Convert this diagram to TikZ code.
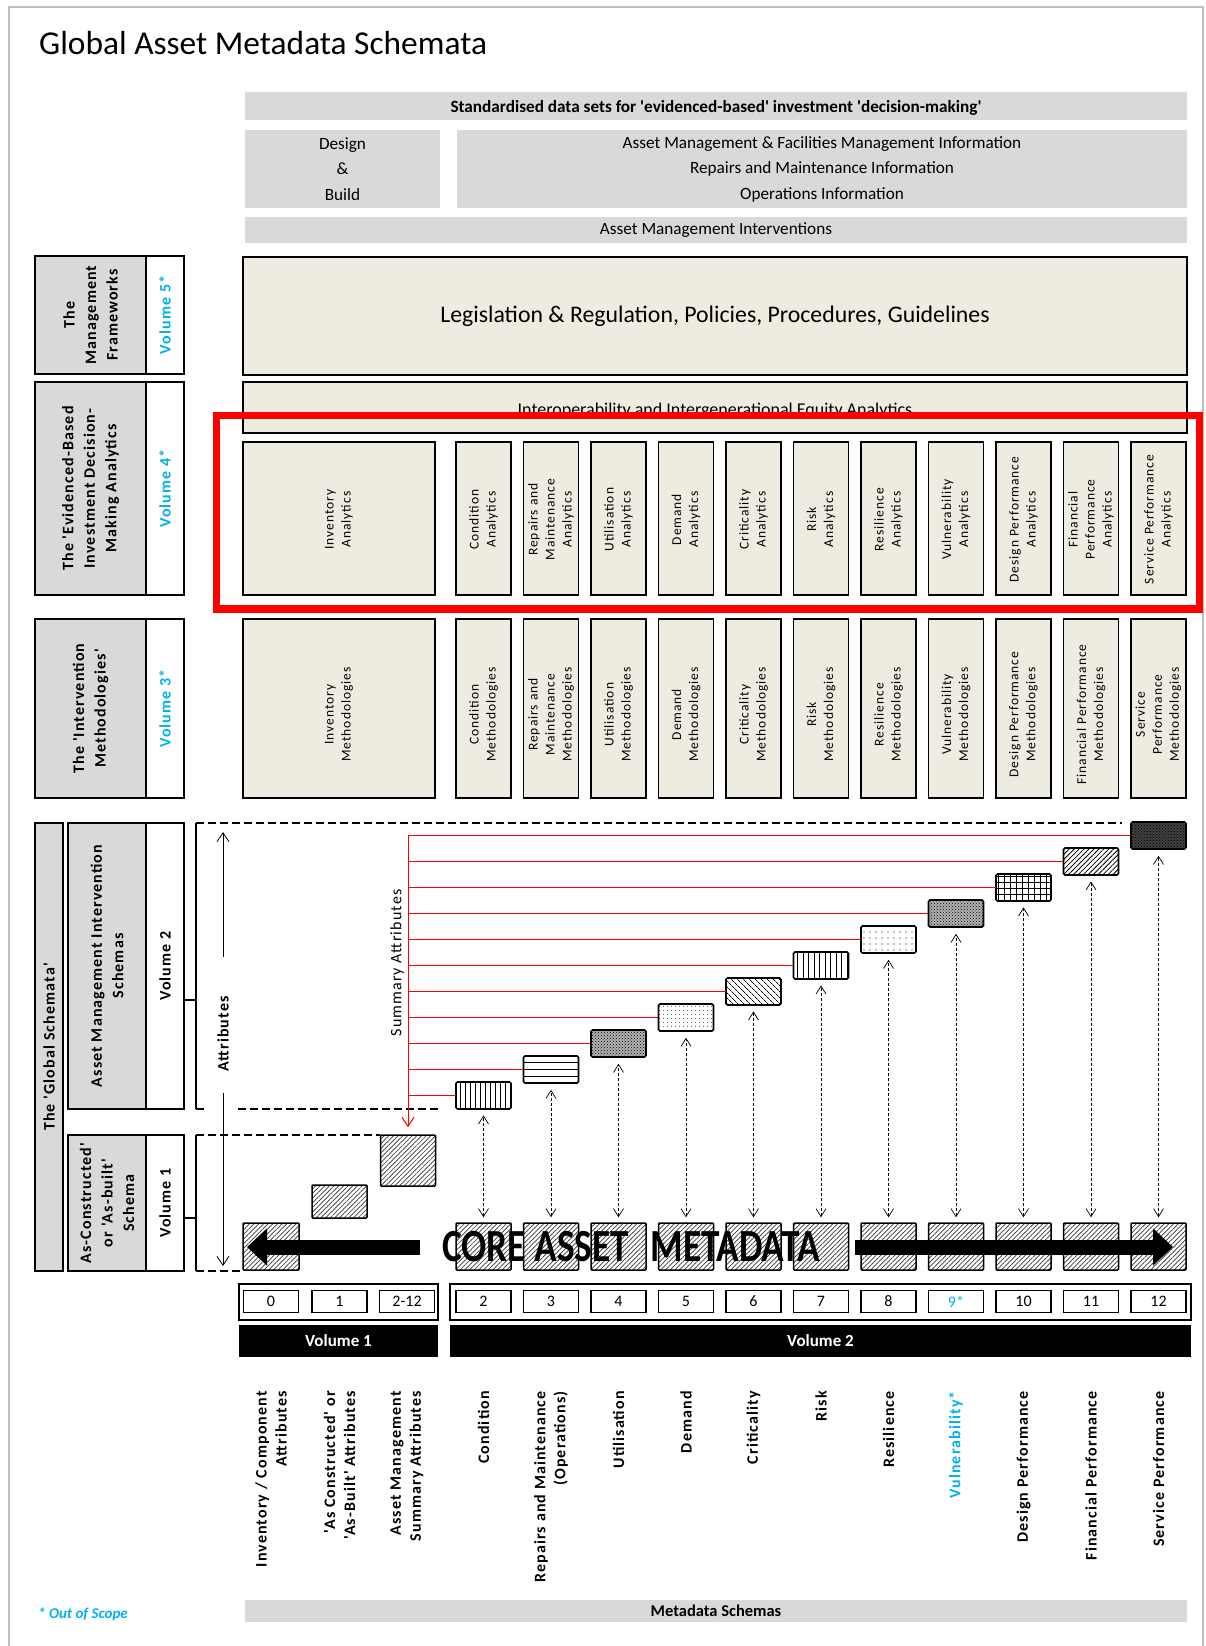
\documentclass[tikz,border=0pt]{standalone}
\usepackage{fontspec}
\setmainfont{Carlito}[Ligatures=TeXOff]
\newfontfamily\spaced{Carlito}[LetterSpace=7,Ligatures=TeXOff]
\usetikzlibrary{arrows.meta,patterns,patterns.meta}
\definecolor{bandgray}{HTML}{D9D9D9}
\definecolor{paper}{HTML}{EEECE1}
\definecolor{scope}{HTML}{00B0F0}
\definecolor{edge}{HTML}{BFBFBF}
\definecolor{hatchink}{HTML}{333333}

\begin{document}
\begin{tikzpicture}[x=1pt,y=-1pt,
  band/.style={fill=bandgray,draw=none,inner sep=0},
  tanbox/.style={fill=paper,draw=black,line width=1.6pt,inner sep=0},
  colbox/.style={tanbox,minimum height=55pt},
  coltext/.style={rotate=90,align=center,inner sep=0,font=\spaced\fontsize{13.5}{17}\selectfont},
  sidebox/.style={fill=bandgray,draw=black,line width=1.6pt,inner sep=0,rotate=90,align=center,
    font=\spaced\bfseries\fontsize{16}{21.5}\selectfont},
  volbox/.style={fill=white,draw=black,line width=1.6pt,inner sep=0,rotate=90,
    font=\spaced\bfseries\fontsize{16}{20}\selectfont},
  stairbox/.style={draw=black,line width=1.6pt,rounded corners=1.5pt,minimum width=55pt,
    minimum height=27pt,inner sep=0},
  hatched/.style={draw=black,line width=1.5pt,inner sep=0,rounded corners=1pt,preaction={fill=white},
    pattern={Lines[angle=45,distance=3.3pt,line width=0.7pt]},pattern color=hatchink},
  redline/.style={draw=red,line width=1pt},
  barb/.tip={Straight Barb[length=8pt,width=10pt]},
  linkarrow/.style={line width=0.7pt,dash pattern=on 3pt off 2pt,barb-barb,
    shorten <=5pt,shorten >=6pt},
  attrarrow/.style={line width=0.8pt,-{Straight Barb[length=9pt,width=12pt]}},
  bracket/.style={line width=1.6pt},
  dashedrule/.style={line width=1.6pt,dash pattern=on 8pt off 4pt},
  numbox/.style={draw=black,line width=1.5pt,minimum width=55pt,minimum height=22pt,inner sep=0,
    font=\fontsize{16}{16}\selectfont},
  volbar/.style={fill=black,draw=none,inner sep=0,text=white,font=\bfseries\fontsize{17}{17}\selectfont},
  botlbl/.style={rotate=90,anchor=east,align=right,inner sep=0,
    font=\spaced\bfseries\fontsize{16}{20}\selectfont},
]
\useasboundingbox (0,0) rectangle (1206,1646);

% page frame
\draw[edge,line width=1.5pt] (9,1646) -- (9,7) -- (1203,7) -- (1203,1646);

% title
\node[anchor=west,inner sep=0,font=\fontsize{33.4}{33.4}\selectfont] (title) at (39,43) {Global Asset Metadata Schemata};

% header bands
\node[band,minimum width=942pt,minimum height=28pt] (std) at (716,106) {};
\node[font=\bfseries\fontsize{17.2}{17.2}\selectfont,inner sep=0] (stdtxt) at ([yshift=-2pt]std.center)
  {Standardised data sets for 'evidenced-based' investment 'decision-making'};
\node[band,minimum width=195pt,minimum height=78pt,align=center,font=\fontsize{17.2}{25.5}\selectfont] (db) at (342.5,169)
  {Design\\\&\\Build};
\node[band,minimum width=730pt,minimum height=78pt,align=center,font=\fontsize{17.2}{25.5}\selectfont] (amfm) at (822,169)
  {Asset Management \& Facilities Management Information\\Repairs and Maintenance Information\\Operations Information};
\node[band,minimum width=942pt,minimum height=26pt,font=\fontsize{17.2}{17.2}\selectfont] (ami) at (716,230)
  {Asset Management Interventions};

% frameworks and interoperability
\node[tanbox,minimum width=944pt,minimum height=118pt,font=\fontsize{23.8}{23.8}\selectfont] (legis) at (715,316)
  {Legislation \& Regulation, Policies, Procedures, Guidelines};
\node[tanbox,minimum width=944pt,minimum height=51pt] (interop) at (715,407.5) {};
\node[inner sep=0,font=\fontsize{18}{18}\selectfont] (interoptxt) at ([yshift=-3pt]interop.center)
  {Interoperability and Intergenerational Equity Analytics};

% analytics row
\node[tanbox,minimum width=192pt,minimum height=153pt] (an0) at (339,518.5) {};
\node[coltext] at ([yshift=-1pt]an0.center) {Inventory\\Analytics};
\foreach \t [count=\i, evaluate=\i as \cx using 483.5+67.5*(\i-1)] in
  {{Condition\\Analytics},{Repairs and\\Maintenance\\Analytics},{Utilisation\\Analytics},
   {Demand\\Analytics},{Criticality\\Analytics},{Risk\\Analytics},{Resilience\\Analytics},
   {Vulnerability\\Analytics},{Design Performance\\Analytics},{Financial\\Performance\\Analytics},
   {Service Performance\\Analytics}}
  {\node[colbox,minimum height=153pt,minimum width=55pt] (an\i) at (\cx,518.5) {};
   \node[coltext] at ([yshift=-1pt]an\i.center) {\t};}

% methodologies row
\node[tanbox,minimum width=192pt,minimum height=179pt] (me0) at (339,708.5) {};
\node[coltext] at ([yshift=-6pt]me0.center) {Inventory\\Methodologies};
\foreach \t [count=\i, evaluate=\i as \cx using 483.5+67.5*(\i-1)] in
  {{Condition\\Methodologies},{Repairs and\\Maintenance\\Methodologies},{Utilisation\\Methodologies},
   {Demand\\Methodologies},{Criticality\\Methodologies},{Risk\\Methodologies},{Resilience\\Methodologies},
   {Vulnerability\\Methodologies},{Design Performance\\Methodologies},{Financial Performance\\Methodologies},
   {Service\\Performance\\Methodologies}}
  {\node[colbox,minimum height=179pt,minimum width=55pt] (me\i) at (\cx,708.5) {};
   \node[coltext] at ([yshift=-6pt]me\i.center) {\t};}

% side labels
\node[sidebox,minimum width=118pt,minimum height=111pt] (smf) at (90.5,315) {The\\Management\\Frameworks};
\node[volbox,minimum width=118pt,minimum height=38pt,text=scope] (vmf) at (165,315) {Volume 5*};
\node[sidebox,minimum width=213pt,minimum height=111pt] (sev) at (90.5,488.5) {The 'Evidenced-Based\\Investment Decision-\\Making Analytics};
\node[volbox,minimum width=213pt,minimum height=38pt,text=scope] (vev) at (165,488.5) {Volume 4*};
\node[sidebox,minimum width=179pt,minimum height=111pt] (sim) at (90.5,708.5) {The 'Intervention\\Methodologies'};
\node[volbox,minimum width=179pt,minimum height=38pt,text=scope] (vim) at (165,708.5) {Volume 3*};
\node[sidebox,minimum width=448pt,minimum height=28pt] (sgs) at (49,1047) {The 'Global Schemata'};
\node[sidebox,minimum width=286pt,minimum height=78pt] (sam) at (107,966) {Asset Management Intervention\\Schemas};
\node[volbox,minimum width=286pt,minimum height=38pt] (vam) at (165,966) {Volume 2};
\node[sidebox,minimum width=136pt,minimum height=78pt] (sac) at (107,1203) {As-Constructed'\\or 'As-built'\\Schema};
\node[volbox,minimum width=136pt,minimum height=38pt] (vac) at (165,1203) {Volume 1};

% volume 1 blocks
\node[hatched,minimum width=56pt,minimum height=47pt] (v1core) at (271,1246.5) {};
\node[hatched,minimum width=55pt,minimum height=33pt] (v1built) at (339.5,1201.5) {};
\node[hatched,minimum width=55pt,minimum height=51pt] (v1sum) at (408,1160.5) {};

% brackets and dashed limits
\coordinate (b2top) at (196,823);
\coordinate (b2bot) at (196,1109);
\coordinate (b2tick) at (196,1000);
\coordinate (b1top) at (196,1135);
\coordinate (b1bot) at (196,1271);
\coordinate (b1tick) at (196,1218);
\draw[bracket] (b2top) -- (b2bot);
\draw[bracket] (b2tick) -- (vam.south |- b2tick);
\draw[bracket] (b1top) -- (b1bot);
\draw[bracket] (b1tick) -- (vac.south |- b1tick);
\draw[dashedrule] (b2top) -- (1122,823);
\draw[dashedrule] (b2bot) -- (207,1109);
\draw[dashedrule] (238,1109) -- (438,1109);
\draw[dashedrule] (b1top) -- (v1sum.west |- b1top);
\draw[dashedrule] (b1bot) -- (v1core.west |- b1bot);

% attributes span
\node[rotate=90,inner sep=0,font=\spaced\bfseries\fontsize{16}{16}\selectfont] (attr) at (223,1034) {Attributes};
\coordinate (atop) at (223,832);
\coordinate (abot) at (223,1266);
\coordinate (agapt) at (223,957);
\coordinate (agapb) at (223,1093);
\draw[attrarrow] (agapt) -- (atop);
\draw[attrarrow] (agapb) -- (abot);

% volume 2 staircase of intervention schemas
\node[stairbox,pattern={Lines[angle=90,distance=5pt,line width=0.8pt]}] (s0) at (483.5,1095.5) {};
\node[stairbox,fill=white] (s1) at (551,1069.5) {};
\foreach \k in {-6.75,0,6.75}
  \draw[line width=1pt] ([yshift=\k pt]s1.west) -- ([yshift=\k pt]s1.east);
\node[stairbox,preaction={fill=black!30},pattern=crosshatch dots] (s2) at (618.5,1043.5) {};
\node[stairbox,pattern={Dots[distance=4pt,radius=0.55pt]}] (s3) at (686,1017.5) {};
\node[stairbox,pattern={Lines[angle=-45,distance=4pt,line width=0.8pt]}] (s4) at (753.5,991.5) {};
\node[stairbox,pattern={Lines[angle=90,distance=5.5pt,line width=0.8pt]}] (s5) at (821,965.5) {};
\node[stairbox,pattern={Dots[distance=6pt,radius=0.6pt]}] (s6) at (888.5,939.5) {};
\node[stairbox,preaction={fill=black!30},pattern=crosshatch dots] (s7) at (956,913.5) {};
\node[stairbox,pattern={Hatch[angle=0,distance=6pt,line width=0.8pt,xshift=2pt,yshift=2pt]}] (s8) at (1023.5,887.5) {};
\node[stairbox,pattern={Lines[angle=45,distance=3.5pt,line width=0.8pt]}] (s9) at (1091,861.5) {};
\node[stairbox,preaction={fill=black!75},pattern=crosshatch dots] (s10) at (1158.5,835.5) {};

% core metadata blocks
\foreach \i [evaluate=\i as \cx using 483.5+67.5*\i] in {0,...,10}
  \node[hatched,minimum width=55pt,minimum height=47pt] (c\i) at (\cx,1246.5) {};

% summary attribute feeds
\coordinate (redtop) at (408,835.5);
\node[rotate=90,inner sep=0,font=\spaced\fontsize{16}{16}\selectfont] (sumattr) at (397,963) {Summary Attributes};
\foreach \i in {0,...,10}
  \draw[redline] (s\i.west) -- (s\i.west -| redtop);
\draw[redline,-{Straight Barb[length=9pt,width=12pt]},shorten >=7pt] (redtop) -- (v1sum.north);

% links between core and schema blocks
\foreach \i in {0,...,10}
  \draw[linkarrow] (c\i.north) -- (s\i.south);

% core asset metadata banner
\coordinate (lat) at (420,1247);
\coordinate (lah) at (247,1247);
\coordinate (rat) at (855,1247);
\coordinate (rah) at (1173,1247);
\draw[line width=15pt,-{Triangle[length=20pt,width=36pt]}] (lat) -- (lah);
\draw[line width=15pt,-{Triangle[length=20pt,width=36pt]}] (rat) -- (rah);
\node[inner sep=0,font=\bfseries\fontsize{46}{46}\selectfont] (coretxt) at (631,1247)
  {\scalebox{0.81}[1]{CORE ASSET\hspace{0.35em} METADATA}};

% schema numbers
\node[draw,line width=1.5pt,minimum width=199pt,minimum height=36pt,inner sep=0] (nf1) at (338.5,1302) {};
\node[draw,line width=1.5pt,minimum width=741pt,minimum height=36pt,inner sep=0] (nf2) at (820.5,1302) {};
\node[numbox] (n0) at (271,1301.5) {0};
\node[numbox] (n1) at (339.5,1301.5) {1};
\node[numbox] (n2) at (407,1301.5) {2-12};
\foreach \t [count=\i from 0, evaluate=\i as \cx using 483.5+67.5*\i] in
  {2,3,4,5,6,7,8,{\textcolor{scope}{9*}},10,11,12}
  \node[numbox] (m\i) at (\cx,1301.5) {\t};

% volume bars
\node[volbar,minimum width=199pt,minimum height=32pt] (vb1) at (338.5,1341) {Volume 1};
\node[volbar,minimum width=741pt,minimum height=32pt] (vb2) at (820.5,1341) {Volume 2};

% schema names
\node[botlbl] (bl0) at (271,1391) {Inventory / Component\\Attributes};
\node[botlbl] (bl1) at (339.5,1391) {'As Constructed' or\\'As-Built' Attributes};
\node[botlbl] (bl2) at (407,1391) {Asset Management\\Summary Attributes};
\foreach \t [count=\i from 0, evaluate=\i as \cx using 483.5+67.5*\i] in
  {Condition,{Repairs and Maintenance\\(Operations)},Utilisation,Demand,Criticality,Risk,
   Resilience,{\textcolor{scope}{Vulnerability*}},Design Performance,Financial Performance,
   Service Performance}
  \node[botlbl] (bv\i) at (\cx,1391) {\t};

% footer
\node[band,minimum width=942pt,minimum height=22pt,font=\bfseries\fontsize{16.5}{16.5}\selectfont] (meta) at (716,1611)
  {Metadata Schemas};
\node[anchor=west,inner sep=0,text=scope,font=\bfseries\itshape\fontsize{15}{15}\selectfont] (oos) at (38,1614)
  {* Out of Scope};

% highlight around the analytics row
\draw[red,line width=7.5pt] (216.5,415.5) rectangle (1199.5,609);
\end{tikzpicture}
\end{document}
